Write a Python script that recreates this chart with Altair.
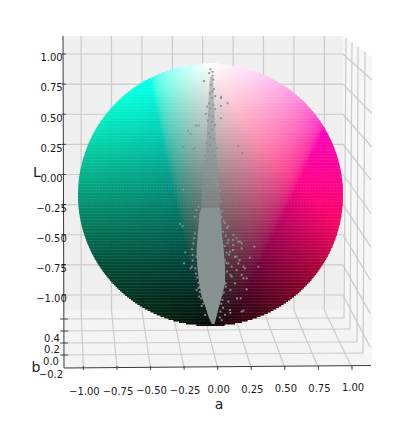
import numpy as np
import pandas as pd
import altair as alt

alt.data_transformers.disable_max_rows()

# ---- values ----
a_ticks = [-1.0, -0.75, -0.5, -0.25, 0.0, 0.25, 0.5, 0.75, 1.0]
a_labels = ["−1.00", "−0.75", "−0.50", "−0.25", "0.00", "0.25", "0.50", "0.75", "1.00"]
L_ticks = [1.0, 0.75, 0.5, 0.25, 0.0, -0.25, -0.5, -0.75, -1.0]
L_labels = ["1.00", "0.75", "0.50", "0.25", "0.00", "−0.25", "−0.50", "−0.75", "−1.00"]
b_labels = ["0.4", "0.2", "0.0", "−0.2"]

# dense core of the cloud: L, left a, right a
core_L = [-0.10, -0.165, -0.29, -0.42, -0.55, -0.675, -0.775, -0.85, -0.93, -0.985]
core_lo = [-0.07, -0.085, -0.095, -0.105, -0.10, -0.085, -0.067, -0.04, -0.015, 0.01]
core_hi = [0.07, 0.08, 0.085, 0.10, 0.11, 0.11, 0.085, 0.065, 0.045, 0.03]
# thinner, less opaque upper column
haze_L = [0.90, 0.725, 0.52, 0.32, 0.14, -0.04, -0.10]
haze_lo = [-0.005, -0.015, -0.025, -0.035, -0.055, -0.07, -0.07]
haze_hi = [0.02, 0.025, 0.035, 0.045, 0.06, 0.07, 0.07]

# single scattered points
pt_a = [-0.05, 0.08, 0.08, 0.13, 0.08, 0.08, -0.11, -0.09, -0.17, -0.15, -0.205, -0.12, -0.13, 0.21, 0.24, 0.25, 0.21, -0.205,
        0.0, 0.015, -0.01, 0.015, 0.02, 0.005, 0.025, 0.015, -0.005, 0.035, 0.01, -0.01, 0.02, -0.025, 0.0, 0.035, -0.035, -0.01, 0.015, -0.02, 0.01, 0.035,
        0.197, 0.223, 0.172, 0.235, 0.331, 0.298, 0.361, 0.21, 0.248, 0.273, 0.248, 0.273, 0.228, 0.248, 0.147, 0.135, 0.185, 0.16, 0.197, 0.135, 0.185, 0.147, 0.172, 0.135,
        -0.23, -0.21, -0.19, -0.2, -0.15, -0.14, -0.135, -0.117, -0.125, -0.13, -0.14, -0.135, -0.09, -0.105, -0.085, -0.067, -0.04, -0.117, -0.105, -0.09, -0.08,
        0.085, 0.11, 0.135, 0.17, 0.21, 0.235, 0.17, 0.195, 0.22, 0.26, 0.235, 0.15, 0.12, 0.16, 0.115, 0.15, 0.2, 0.235, 0.15, 0.11, 0.075, 0.085,
        0.1, 0.125, 0.095, 0.115, 0.13, 0.105, 0.12, 0.14, 0.11, 0.095, 0.125, 0.105, 0.09, 0.115, 0.1, 0.09, 0.08, 0.095, 0.07, 0.085,
        -0.075, -0.085, -0.095, -0.105, -0.115, -0.11, -0.1, -0.09, -0.08, -0.07, -0.055, -0.08, 0.075, 0.09, 0.08, 0.065, 0.055, 0.07, 0.06, 0.045, 0.05,
        -0.06, -0.05, -0.045, -0.03, -0.04, -0.055, -0.065, -0.035, -0.02, -0.03, 0.0, 0.03, 0.04, -0.015, 0.01, 0.025, -0.005, 0.03, 0.015, 0.04, -0.025, 0.005]
pt_L = [0.87, 0.75, 0.74, 0.70, 0.68, 0.585, 0.53, 0.53, 0.49, 0.465, 0.365, 0.36, 0.35, 0.375, 0.32, 0.17, 0.135, 0.04,
        0.96, 0.94, 0.93, 0.91, 0.88, 0.84, 0.81, 0.79, 0.775, 0.755, 0.74, 0.70, 0.69, 0.675, 0.66, 0.655, 0.62, 0.61, 0.60, 0.57, 0.56, 0.535,
        -0.33, -0.356, -0.382, -0.407, -0.394, -0.478, -0.547, -0.522, -0.547, -0.636, -0.636, -0.72, -0.789, -0.883, -0.878, -0.814, -0.674, -0.623, -0.573, -0.522, -0.471, -0.433, -0.305, -0.343,
        -0.22, -0.237, -0.438, -0.522, -0.56, -0.547, -0.50, -0.293, -0.33, -0.37, -0.415, -0.458, -0.71, -0.725, -0.775, -0.847, -0.916, -0.165, -0.114, -0.09, -0.15,
        -0.165, -0.216, -0.24, -0.343, -0.356, -0.369, -0.42, -0.47, -0.496, -0.56, -0.61, -0.61, -0.52, -0.547, -0.674, -0.725, -0.79, -0.89, -0.90, -0.915, -0.89, -0.955,
        -0.20, -0.25, -0.28, -0.31, -0.365, -0.39, -0.44, -0.455, -0.50, -0.53, -0.585, -0.60, -0.645, -0.70, -0.745, -0.80, -0.83, -0.86, -0.935, -0.76,
        -0.25, -0.35, -0.40, -0.47, -0.56, -0.60, -0.63, -0.67, -0.70, -0.79, -0.83, -0.74, -0.13, -0.12, -0.05, -0.02, 0.08, 0.03, 0.17, 0.22, 0.36,
        0.02, 0.10, 0.18, 0.26, 0.30, -0.02, 0.06, 0.22, 0.34, 0.40, 0.44, 0.30, 0.13, 0.47, 0.50, 0.43, 0.38, 0.23, 0.33, 0.10, 0.16, 0.28]

POINT = "#869391"

# ---- projection of the three walls onto the picture plane ----
def wall_x(a): return 202.7 + 121.6 * a
def wall_y(L): return 174.5 - 120.5 * L
def front_x(a): return 217.7 + 134.3 * a
def right_y(L): return 80 + (1 - L) * 133.5
def disc_x(a): return 210.5 + 132.5 * a
def disc_y(L): return 195.0 - 131.0 * L

SX = alt.Scale(domain=[8, 404], nice=False, zero=False)
SY = alt.Scale(domain=[415, 8], nice=False, zero=False)
X = lambda f="x": alt.X(f"{f}:Q", scale=SX, axis=None)
Y = lambda f="y": alt.Y(f"{f}:Q", scale=SY, axis=None)

def rules(segs, color, width):
    df = pd.DataFrame(segs, columns=["x", "y", "x2", "y2"])
    return alt.Chart(df).mark_rule(color=color, strokeWidth=width).encode(
        x=X(), y=Y(), x2="x2:Q", y2="y2:Q")

def band(xs, tops, bots, color):
    df = pd.DataFrame({"x": xs, "y": tops, "y2": bots})
    return alt.Chart(df).mark_area(color=color, opacity=1).encode(x=X(), y=Y(), y2="y2:Q")

# ---- panes ----
panes = [
    band([63, 343], [36, 36], [310, 310], "#f0f0f0"),
    band([63.5, 343, 371], [310, 310, 365], [368, 366.5, 365], "#f4f4f4"),
    band([343, 372], [36, 57], [310, 366], "#f7f7f7"),
]

# ---- grid ----
FLOOR_BACK = 310
b_left = [319, 331, 343, 355]
b_right_x = [344, 350, 357, 363]
b_right_y = [318, 329, 342, 353]
b_top_x = [346, 352, 358, 365]
grid = []
for a in a_ticks:
    grid.append((wall_x(a), 36, wall_x(a), FLOOR_BACK))
    grid.append((wall_x(a), FLOOR_BACK, front_x(a), 368))
for L in L_ticks:
    grid.append((63, wall_y(L), 343, wall_y(L)))
    grid.append((343, wall_y(L), 372 - (1 - L) * 1, right_y(L)))
for yl, xr, yr, xt in zip(b_left, b_right_x, b_right_y, b_top_x):
    grid.append((63.5, yl, xr, yr))
    grid.append((xr, yr, xt, 36 + (xt - 343) * 0.72))
grid_layer = rules(grid, "#cbcbcb", 1.2)

# ---- coloured sphere: CIELAB colours with b = 0, clipped to sRGB ----
def lab_hex(Lv, av):
    Ls, As = 50 * (Lv + 1), 128 * av
    fy = (Ls + 16) / 116
    fx = fy + As / 500
    inv = lambda t: np.where(t > 6 / 29, t ** 3, 3 * (6 / 29) ** 2 * (t - 4 / 29))
    xx, yy, zz = 0.9505 * inv(fx), inv(fy), 1.089 * inv(fy)
    r = 3.2406 * xx - 1.5372 * yy - 0.4986 * zz
    g = -0.9689 * xx + 1.8758 * yy + 0.0415 * zz
    b = 0.0557 * xx - 0.2040 * yy + 1.0570 * zz
    def gam(c):
        c = np.clip(c, 0, 1)
        return np.where(c > 0.0031308, 1.055 * c ** (1 / 2.4) - 0.055, 12.92 * c)
    rgb = np.round(np.stack([gam(r), gam(g), gam(b)], axis=-1) * 255).astype(int)
    return ["#%02x%02x%02x" % tuple(c) for c in rgb]

dy, dx = 1.5 / 131.0, 3.0 / 132.5
cells = []
for Lc in np.arange(-1 + dy / 2, 1, dy):
    half = np.sqrt(1 - Lc ** 2)
    edges = np.append(np.arange(-half, half, dx), half)
    mids = (edges[:-1] + edges[1:]) / 2
    cols = lab_hex(np.full_like(mids, Lc), mids)
    for i, (m, c) in enumerate(zip(mids, cols)):
        right = edges[i + 1]
        cells.append((disc_x(edges[i]), disc_x(right) + (0.4 if i < len(mids) - 1 else 0),
                      disc_y(Lc + dy / 2) - 0.3, disc_y(Lc - dy / 2), c))
sphere_df = pd.DataFrame(cells, columns=["x", "x2", "y", "y2", "fill"]).round(2)
sphere = alt.Chart(sphere_df).mark_rect(strokeWidth=0).encode(
    x=X(), x2="x2:Q", y=Y(), y2="y2:Q", color=alt.Color("fill:N", scale=None))

# ---- cloud ----
def cloud_area(Ls, lo, hi, op):
    df = pd.DataFrame({"y": [disc_y(v) for v in Ls], "x": [disc_x(v) for v in lo], "x2": [disc_x(v) for v in hi]})
    return alt.Chart(df).mark_area(orient="horizontal", color=POINT, opacity=op).encode(
        x=X(), x2="x2:Q", y=Y())

pts_df = pd.DataFrame({"x": [disc_x(v) for v in pt_a], "y": [disc_y(v) for v in pt_L]})
points = alt.Chart(pts_df).mark_square(size=3.5, color=POINT, opacity=1).encode(x=X(), y=Y())

# ---- axes ----
axis_lines = rules([(63, 36, 64, 368), (64, 368, 371, 365.5)], "#3a3a3a", 1.0)
ticks = []
for L in L_ticks:
    ticks.append((61.5, wall_y(L), 66, wall_y(L)))
for yl in b_left:
    ticks.append((60, yl, 68, yl))
for a in a_ticks:
    ticks.append((front_x(a), 366, front_x(a), 370))
tick_layer = rules(ticks, "#3a3a3a", 0.9)

def texts(xs, ys, labels, size):
    df = pd.DataFrame({"x": xs, "y": ys, "t": labels})
    return alt.Chart(df).mark_text(font="DejaVu Sans", fontSize=size, color="#1a1a1a",
                                   align="center", baseline="middle").encode(x=X(), y=Y(), text="t:N")

txt = [
    texts([51.5] * len(L_ticks), [wall_y(v) + 4.3 for v in L_ticks], L_labels, 10),
    texts([52, 52, 51, 51], [339, 350, 362, 375], b_labels, 10),
    texts([front_x(v) + 1 for v in a_ticks], [392 - (v + 1) * 2 for v in a_ticks], a_labels, 10),
    texts([37, 36, 219], [173, 368, 405], ["L", "b", "a"], 14),
]

chart = alt.layer(
    *panes, grid_layer, sphere,
    cloud_area(haze_L, haze_lo, haze_hi, 0.5), cloud_area(core_L, core_lo, core_hi, 1.0), points,
    axis_lines, tick_layer, *txt,
).properties(width=396, height=407, padding=0).configure_view(stroke=None)

chart.save("out.html", embed_options={"renderer": "svg", "actions": False})
